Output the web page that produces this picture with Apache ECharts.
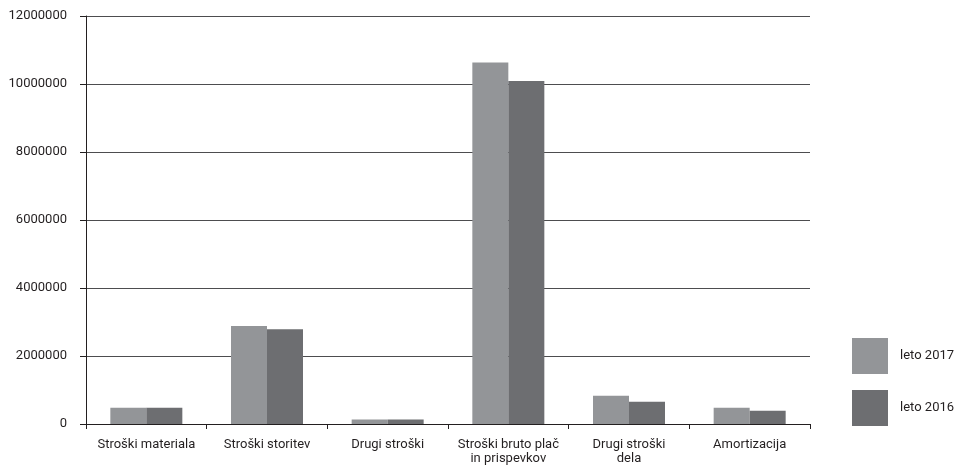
<!DOCTYPE html>
<html>
<head>
<meta charset="utf-8">
<script src="https://cdn.jsdelivr.net/npm/echarts@6/dist/echarts.min.js"></script>
<style>
html,body{margin:0;padding:0;background:#fff;}
#c{width:955px;height:468px;}
</style>
</head>
<body>
<div id="c"></div>
<script>
var categories = ['Stroški materiala', 'Stroški storitev', 'Drugi stroški', 'Stroški bruto plač\nin prispevkov', 'Drugi stroški\ndela', 'Amortizacija'];
var seriesNames = ['leto 2017', 'leto 2016'];
var values2017 = [480000, 2880000, 130000, 10630000, 830000, 480000];
var values2016 = [480000, 2790000, 130000, 10090000, 655000, 390000];
var yTicks = [0, 2000000, 4000000, 6000000, 8000000, 10000000, 12000000];

var font = 'Roboto, "Liberation Sans", sans-serif';
var chart = echarts.init(document.getElementById('c'), null, {renderer: 'canvas'});
chart.setOption({
  animation: false,
  backgroundColor: '#ffffff',
  textStyle: {fontFamily: font},
  grid: {left: 86, right: 145, top: 16, bottom: 44, containLabel: false},
  legend: {
    orient: 'vertical', left: 852, top: 338, padding: 0,
    itemWidth: 36, itemHeight: 36, itemGap: 16,
    icon: 'rect',
    textStyle: {fontFamily: font, fontSize: 13, color: '#231f20', padding: [0,0,0,7]},
    data: seriesNames
  },
  xAxis: {
    type: 'category',
    data: categories,
    axisLine: {lineStyle: {color: '#231f20', width: 1}},
    axisTick: {show: true, length: 5, alignWithLabel: false, lineStyle: {color: '#231f20'}},
    axisLabel: {interval: 0, fontFamily: font, fontSize: 13, color: '#231f20', margin: 14, lineHeight: 14}
  },
  yAxis: {
    type: 'value',
    min: yTicks[0], max: yTicks[yTicks.length-1], interval: 2000000,
    axisLine: {show: true, lineStyle: {color: '#231f20', width: 1}},
    axisTick: {show: true, length: 6, inside: false, lineStyle: {color: '#231f20'}},
    axisLabel: {fontFamily: font, fontSize: 13, color: '#231f20', margin: 19,
      formatter: function (v) { return String(v); }},
    splitLine: {show: true, lineStyle: {color: '#4d4d4f', width: 1}}
  },
  series: [
    {name: seriesNames[0], type: 'bar', data: values2017, barWidth: 36, barGap: '0%', itemStyle: {color: '#939598'}},
    {name: seriesNames[1], type: 'bar', data: values2016, barWidth: 36, barGap: '0%', itemStyle: {color: '#6d6e71'}}
  ]
});
</script>
</body>
</html>
